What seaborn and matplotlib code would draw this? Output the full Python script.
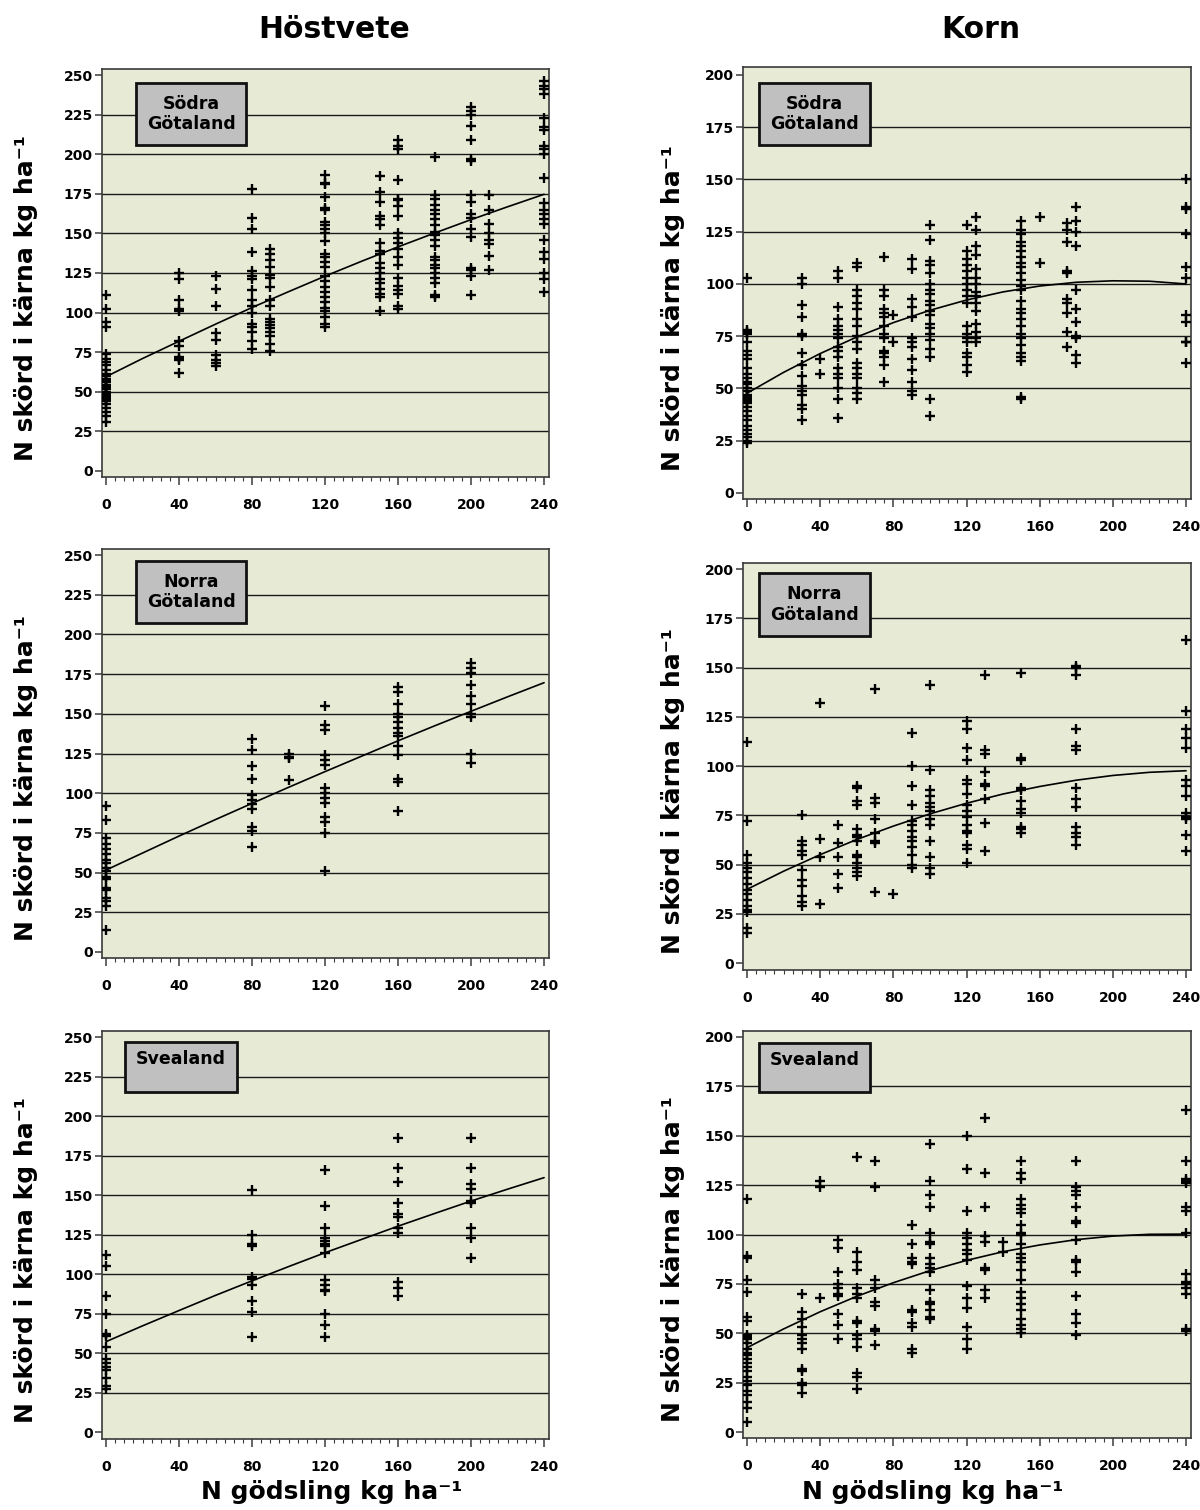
import numpy as np
import pandas as pd
import matplotlib
matplotlib.use("Agg")
import matplotlib.pyplot as plt
from matplotlib.patches import Rectangle
from matplotlib.ticker import MultipleLocator
import seaborn as sns

# ---------------- data ----------------
col_titles = ["Höstvete", "Korn"]
region_labels = ["Södra\nGötaland", "Norra\nGötaland", "Svealand"]
y_label = "N skörd i kärna kg ha⁻¹"
x_label = "N gödsling kg ha⁻¹"
x_ticks = [0, 40, 80, 120, 160, 200, 240]
yticks_hv = [0, 25, 50, 75, 100, 125, 150, 175, 200, 225, 250]
yticks_korn = [0, 25, 50, 75, 100, 125, 150, 175, 200]

hv_sodra = {
    0: [111, 102, 94, 91, 74, 71, 69, 67, 64, 61, 58, 56, 54, 52, 50, 48, 46, 44, 42, 40,
        37, 35, 31, 60, 57, 53, 49, 47, 45],
    40: [125, 121, 108, 102, 101, 82, 79, 72, 71, 70, 62],
    60: [123, 115, 104, 87, 83, 73, 70, 68, 66],
    80: [178, 160, 153, 138, 126, 123, 121, 114, 108, 104, 100, 93, 91, 88, 82, 77],
    90: [140, 137, 133, 129, 124, 122, 116, 108, 104, 96, 94, 92, 90, 88, 85, 80, 76],
    120: [187, 182, 181, 173, 166, 165, 157, 155, 153, 150, 145, 137, 135, 132, 129, 123,
          120, 116, 113, 110, 107, 103, 101, 97, 93, 91],
    150: [186, 176, 170, 161, 159, 155, 144, 139, 137, 131, 128, 125, 121, 119, 115, 112, 110, 101],
    160: [209, 205, 203, 184, 172, 171, 167, 161, 150, 147, 144, 140, 135, 130, 122, 117,
          114, 112, 104, 102],
    180: [198, 174, 172, 168, 165, 162, 159, 155, 151, 149, 146, 142, 135, 133, 130, 128,
          125, 122, 119, 111, 110],
    200: [230, 227, 225, 218, 209, 197, 196, 174, 170, 162, 160, 153, 148, 128, 127, 123, 111],
    210: [174, 165, 156, 150, 146, 143, 136, 127],
    240: [246, 243, 241, 238, 223, 217, 215, 205, 203, 200, 185, 169, 165, 162, 159, 156,
          146, 138, 134, 125, 121, 113],
}
korn_sodra = {
    0: [103, 78, 77, 72, 68, 64, 60, 57, 55, 53, 50, 49, 47, 45, 43, 41, 39, 37, 35, 32,
        27, 25, 24, 76, 66, 52, 46, 44, 30, 28],
    30: [103, 100, 90, 84, 76, 75, 67, 61, 56, 51, 49, 47, 42, 40, 35],
    40: [64, 57],
    50: [106, 103, 89, 83, 80, 78, 76, 74, 70, 68, 65, 60, 57, 55, 50, 45, 36],
    60: [110, 108, 97, 94, 91, 88, 83, 80, 75, 72, 69, 62, 60, 57, 55, 50, 48, 45],
    75: [113, 97, 94, 88, 86, 84, 80, 76, 74, 68, 67, 65, 61, 53],
    80: [85, 72],
    90: [112, 107, 93, 89, 84, 74, 72, 70, 64, 59, 53, 49, 47],
    100: [128, 121, 111, 109, 105, 100, 97, 95, 92, 90, 87, 85, 81, 79, 76, 73, 69, 65, 45, 37],
    120: [128, 116, 112, 109, 106, 103, 100, 97, 94, 91, 80, 76, 74, 72, 67, 65, 61, 58],
    125: [132, 126, 118, 114, 107, 103, 100, 96, 94, 91, 87, 81, 77, 74, 72],
    150: [130, 126, 124, 120, 118, 116, 113, 110, 108, 105, 102, 99, 97, 92, 88, 86, 83,
          80, 76, 74, 71, 67, 65, 63, 46, 45],
    160: [132, 110],
    175: [129, 126, 120, 106, 105, 93, 91, 86, 77, 70],
    180: [137, 130, 125, 118, 97, 88, 82, 75, 74, 66, 62],
    240: [150, 137, 136, 124, 108, 103, 85, 82, 72, 72, 62],
}
hv_norra = {
    0: [92, 83, 72, 68, 65, 62, 58, 56, 53, 51, 47, 46, 40, 39, 34, 32, 29, 14],
    80: [134, 127, 117, 109, 99, 96, 93, 90, 79, 76, 66],
    100: [125, 123, 122, 108],
    120: [155, 143, 140, 124, 121, 118, 103, 100, 97, 94, 85, 82, 75, 51],
    160: [167, 164, 156, 150, 148, 145, 141, 138, 136, 130, 124, 109, 107, 89],
    200: [182, 179, 176, 168, 161, 156, 150, 148, 125, 119],
}
korn_norra = {
    0: [112, 72, 55, 51, 48, 46, 43, 40, 37, 35, 32, 29, 27, 26, 18, 15],
    30: [75, 62, 60, 57, 55, 47, 42, 39, 34, 31, 29],
    40: [132, 63, 54, 30],
    50: [70, 61, 54, 45, 38],
    60: [90, 89, 82, 80, 68, 65, 64, 62, 55, 54, 51, 48, 46, 44],
    70: [139, 84, 81, 73, 66, 62, 61, 36],
    80: [35],
    90: [117, 100, 90, 80, 72, 70, 67, 64, 62, 59, 55, 50, 48],
    100: [141, 98, 88, 85, 81, 79, 77, 73, 70, 62, 54, 48, 45],
    120: [123, 119, 109, 103, 93, 91, 86, 80, 77, 74, 70, 67, 66, 60, 58, 51],
    130: [146, 108, 106, 97, 91, 90, 83, 71, 57],
    150: [147, 104, 103, 89, 88, 82, 78, 76, 69, 68, 66],
    180: [151, 150, 146, 119, 110, 108, 89, 83, 79, 69, 66, 64, 60],
    240: [164, 128, 119, 114, 109, 93, 90, 85, 76, 74, 73, 65, 57],
}
hv_svea = {
    0: [112, 105, 86, 75, 62, 61, 54, 46, 44, 41, 39, 34, 29, 27],
    80: [153, 125, 119, 118, 98, 97, 93, 83, 76, 60],
    120: [166, 143, 129, 123, 121, 119, 118, 113, 96, 93, 90, 89, 75, 68, 60],
    160: [186, 167, 158, 145, 138, 136, 129, 126, 95, 91, 86],
    200: [186, 167, 157, 154, 146, 145, 129, 123, 110],
}
korn_svea = {
    0: [118, 89, 88, 77, 71, 58, 56, 49, 45, 42, 39, 37, 35, 33, 31, 28, 26, 24, 21, 19,
        15, 12, 5, 48, 47, 40],
    30: [70, 61, 57, 53, 49, 47, 45, 42, 32, 31, 25, 24, 20],
    40: [127, 124, 68],
    50: [97, 93, 81, 75, 73, 70, 69, 60, 54, 47],
    60: [139, 91, 86, 82, 73, 70, 68, 56, 55, 49, 47, 43, 30, 28, 22],
    70: [137, 124, 77, 73, 66, 64, 52, 51, 44],
    90: [105, 95, 88, 86, 85, 62, 61, 55, 53, 42, 40],
    100: [146, 127, 120, 114, 101, 96, 95, 88, 85, 83, 81, 72, 66, 65, 62, 58, 57],
    120: [150, 133, 112, 101, 98, 95, 92, 90, 87, 74, 68, 63, 53, 47, 42],
    130: [159, 131, 114, 99, 96, 83, 82, 72, 68],
    140: [96, 91],
    150: [137, 131, 128, 118, 115, 113, 111, 105, 101, 100, 95, 90, 88, 86, 82, 77, 71, 68,
          65, 62, 57, 54, 52, 50],
    180: [137, 124, 122, 120, 114, 107, 106, 97, 87, 86, 81, 69, 60, 55, 49],
    240: [163, 137, 128, 127, 126, 114, 112, 101, 80, 76, 75, 73, 70, 52, 51],
}

# fitted response curves, read at every 20 kg N
curve_x = [0, 20, 40, 60, 80, 100, 120, 140, 160, 180, 200, 220, 240]
hv_sodra_fit = [59.5, 71, 81.9, 92.7, 103.2, 113.2, 123, 132.4, 141.5, 150.2, 158.7, 166.8, 174.7]
korn_sodra_fit = [47.7, 57.7, 66.7, 74.6, 81.5, 87.4, 92.3, 96.2, 99.0, 100.8, 101.5, 101.3, 100.0]
hv_norra_fit = [51.6, 62.3, 73.0, 83.4, 93.6, 103.7, 113.6, 123.3, 133.0, 142.4, 151.6, 160.7, 169.6]
korn_norra_fit = [37.4, 46.6, 55.0, 62.7, 69.5, 75.7, 81.1, 85.8, 89.6, 92.8, 95.2, 96.8, 97.6]
hv_svea_fit = [57.2, 67.2, 76.9, 86.5, 95.7, 104.7, 113.5, 121.9, 130.3, 138.3, 146.2, 153.7, 161.0]
korn_svea_fit = [42.7, 52.2, 60.9, 68.7, 75.6, 81.7, 86.9, 91.3, 94.7, 97.4, 99.2, 100.1, 100.2]

# ---------------- layout / style ----------------
W, H = 1200, 1510
BG = "#E7EBD5"
sns.set_theme(style="white")
plt.rcParams["font.family"] = ["DejaVu Sans"]
plt.rcParams["text.color"] = "black"
plt.rcParams["axes.labelcolor"] = "black"
plt.rcParams["xtick.color"] = "black"
plt.rcParams["ytick.color"] = "black"

fig = plt.figure(figsize=(W / 100, H / 100), dpi=100)
fig.patch.set_facecolor("white")


def rect(l, t, r, b):
    return [l / W, 1 - b / H, (r - l) / W, (b - t) / H]


def to_df(d):
    xs, ys = [], []
    for k, vals in d.items():
        xs += [k] * len(vals)
        ys += vals
    return pd.DataFrame({"x": xs, "y": ys})


panels = [
    # data, fit, axes box (px), ylim, yticks, label box (px), label, column
    (hv_sodra, hv_sodra_fit, (102, 69, 549, 477), (-3.8, 253.8), yticks_hv,
     (136, 83, 246, 145), region_labels[0], 0),
    (korn_sodra, korn_sodra_fit, (743, 67, 1191, 499), (-2.9, 203.8), yticks_korn,
     (759, 83, 870, 145), region_labels[0], 1),
    (hv_norra, hv_norra_fit, (102, 549, 549, 958), (-3.8, 253.8), yticks_hv,
     (136, 561, 246, 623), region_labels[1], 0),
    (korn_norra, korn_norra_fit, (743, 563, 1191, 970), (-3.55, 203.05), yticks_korn,
     (759, 573, 870, 636), region_labels[1], 1),
    (hv_svea, hv_svea_fit, (102, 1031, 549, 1439), (-4.4, 253.8), yticks_hv,
     (125, 1042, 237, 1092), region_labels[2], 0),
    (korn_svea, korn_svea_fit, (743, 1031, 1191, 1438), (-3.0, 203.0), yticks_korn,
     (759, 1043, 870, 1092), region_labels[2], 1),
]

for data, fit, box, ylim, yt, lbox, lab, col in panels:
    ax = fig.add_axes(rect(*box))
    ax.set_facecolor(BG)
    for v in yt[1:-1]:
        ax.axhline(v, color="#1a1a1a", lw=1.0, zorder=1)
    df = to_df(data)
    sns.scatterplot(data=df, x="x", y="y", ax=ax, marker="+", color="black",
                    s=62, linewidth=1.7, zorder=3, legend=False)
    sns.lineplot(x=curve_x, y=fit, ax=ax, color="black", lw=1.2, zorder=4)
    ax.set_xlim(-2.2, 242.7)
    ax.set_ylim(*ylim)
    ax.set_xticks(x_ticks)
    ax.xaxis.set_minor_locator(MultipleLocator(5))
    ax.set_yticks(yt)
    ax.set_xlabel("")
    ax.set_ylabel("")
    for s in ax.spines.values():
        s.set_color("#3a3a3a")
        s.set_linewidth(1.2)
        s.set_visible(True)
    ax.tick_params(axis="x", which="major", direction="out", length=6, width=1.1,
                   color="#3a3a3a", labelcolor="black", pad=9, labelsize=10, bottom=True)
    ax.tick_params(axis="x", which="minor", direction="out", length=3, width=0.8,
                   color="#3a3a3a", bottom=True)
    ax.tick_params(axis="y", which="major", direction="out", length=5, width=1.1,
                   color="#3a3a3a", labelcolor="black", pad=1.5, labelsize=10, left=True)
    for t in ax.get_xticklabels() + ax.get_yticklabels():
        t.set_fontweight("heavy")

    # region label box
    l, t, r, b = lbox
    fig.patches.append(Rectangle((l / W, 1 - b / H), (r - l) / W, (b - t) / H,
                                 transform=fig.transFigure, facecolor="#C0C0C0",
                                 edgecolor="#111111", lw=2.0, zorder=10))
    if "\n" in lab:
        ty = (t + b) / 2
    else:
        ty = t + 17
    fig.text((l + r) / 2 / W, 1 - ty / H, lab, ha="center", va="center",
             fontsize=12.5, fontweight="bold", linespacing=1.15, zorder=11,
             color="black")

    # y label
    yc = (box[1] + box[3]) / 2 + 25
    xc = 26 if col == 0 else 673
    fig.text(xc / W, 1 - yc / H, y_label, rotation=90, ha="center", va="center",
             fontsize=18, fontweight="bold", color="black")

# column titles
fig.text(334 / W, 1 - 30 / H, col_titles[0], ha="center", va="center",
         fontsize=21.5, fontweight="bold", color="black")
fig.text(981 / W, 1 - 30 / H, col_titles[1], ha="center", va="center",
         fontsize=21.5, fontweight="bold", color="black")
# x labels
fig.text(332 / W, 1 - 1492 / H, x_label, ha="center", va="center",
         fontsize=18, fontweight="bold", color="black")
fig.text(933 / W, 1 - 1492 / H, x_label, ha="center", va="center",
         fontsize=18, fontweight="bold", color="black")

fig.savefig("out.png", dpi=100, facecolor="white")
